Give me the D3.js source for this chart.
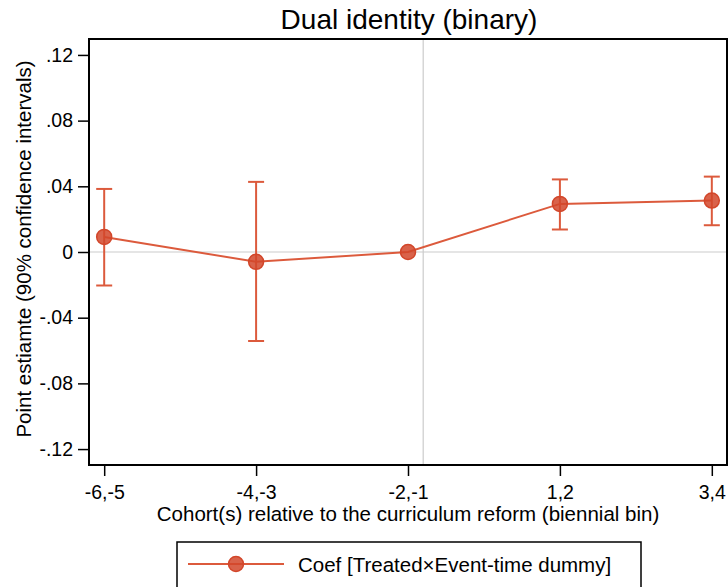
<!DOCTYPE html>
<html>
<head>
<meta charset="utf-8">
<script src="https://cdn.jsdelivr.net/npm/d3@7"></script>
<style>
  body { margin: 0; background: #fff; }
  text { font-family: "Liberation Sans", Arial, sans-serif; }
</style>
</head>
<body>
<div id="chart"></div>
<script>
// Dữ liệu
const categories = ["-6,-5", "-4,-3", "-2,-1", "1,2", "3,4"];
const coef = [0.0092, -0.0060, 0.0000, 0.0293, 0.0313];
const ciLow = [-0.0204, -0.0542, null, 0.0137, 0.0163];
const ciHigh = [0.0384, 0.0427, null, 0.0442, 0.0459];
const yTicks = [0.12, 0.08, 0.04, 0, -0.04, -0.08, -0.12];
const yTickLabels = [".12", ".08", ".04", "0", "-.04", "-.08", "-.12"];
const refLineX = 3.1;

const width = 728, height = 587;
const margin = { top: 39, right: 1, bottom: 122, left: 89 };
const lineColor = "#dc5a3c";
const font = "Liberation Sans, Arial, sans-serif";

const svg = d3.select("#chart").append("svg")
    .attr("width", width)
    .attr("height", height);

const x = d3.scaleLinear().domain([0.9, 5.1]).range([margin.left, width - margin.right]);
const y = d3.scaleLinear().domain([-0.1297, 0.1297]).range([height - margin.bottom, margin.top]);

const data = categories.map((c, i) => ({ cat: c, pos: i + 1, b: coef[i], lo: ciLow[i], hi: ciHigh[i] }));

// đường tham chiếu
svg.append("line")
    .attr("x1", margin.left).attr("x2", width - margin.right)
    .attr("y1", y(0)).attr("y2", y(0))
    .attr("stroke", "#cccccc").attr("stroke-width", 1.2);
svg.append("line")
    .attr("x1", x(refLineX)).attr("x2", x(refLineX))
    .attr("y1", margin.top).attr("y2", height - margin.bottom)
    .attr("stroke", "#cccccc").attr("stroke-width", 1.2);

// trục Y
const yAxis = svg.append("g")
    .attr("transform", `translate(${margin.left},0)`)
    .call(d3.axisLeft(y).tickValues(yTicks).tickSize(11).tickPadding(5)
        .tickFormat((d, i) => yTickLabels[i]));
yAxis.select(".domain").remove();
yAxis.selectAll("line").attr("stroke", "#000").attr("stroke-width", 1.5);
yAxis.selectAll("text").attr("font-size", "19.5px").attr("fill", "#000")
    .style("font-family", font);

// trục X
const xAxis = svg.append("g")
    .attr("transform", `translate(0,${height - margin.bottom})`)
    .call(d3.axisBottom(x).tickValues(data.map(d => d.pos)).tickSize(11).tickPadding(9)
        .tickFormat((d, i) => categories[i]));
xAxis.select(".domain").remove();
xAxis.selectAll("line").attr("stroke", "#000").attr("stroke-width", 1.5);
xAxis.selectAll("text").attr("font-size", "19.5px").attr("fill", "#000")
    .style("font-family", font);

// khung
svg.append("rect")
    .attr("x", margin.left).attr("y", margin.top)
    .attr("width", width - margin.right - margin.left)
    .attr("height", height - margin.bottom - margin.top)
    .attr("fill", "none").attr("stroke", "#000").attr("stroke-width", 2);

// khoảng tin cậy
const ci = data.filter(d => d.lo !== null);
svg.selectAll(".ci").data(ci).enter().append("line")
    .attr("x1", d => x(d.pos)).attr("x2", d => x(d.pos))
    .attr("y1", d => y(d.lo)).attr("y2", d => y(d.hi))
    .attr("stroke", lineColor).attr("stroke-width", 2);
["lo", "hi"].forEach(k => {
    svg.selectAll(".cap-" + k).data(ci).enter().append("line")
        .attr("x1", d => x(d.pos) - 8).attr("x2", d => x(d.pos) + 8)
        .attr("y1", d => y(d[k])).attr("y2", d => y(d[k]))
        .attr("stroke", lineColor).attr("stroke-width", 2);
});

// đường nối
svg.append("path")
    .datum(data)
    .attr("fill", "none")
    .attr("stroke", lineColor)
    .attr("stroke-width", 2)
    .attr("d", d3.line().x(d => x(d.pos)).y(d => y(d.b)));

// điểm
svg.selectAll(".pt").data(data).enter().append("circle")
    .attr("cx", d => x(d.pos)).attr("cy", d => y(d.b)).attr("r", 7.5)
    .attr("fill", "#d2462a").attr("fill-opacity", 0.85)
    .attr("stroke", "#d2462a").attr("stroke-width", 1.5);

// tiêu đề
svg.append("text")
    .attr("x", 409)
    .attr("y", 28.5)
    .attr("text-anchor", "middle")
    .attr("font-size", "28px")
    .text("Dual identity (binary)");

svg.append("text")
    .attr("transform", `translate(31,249) rotate(-90)`)
    .attr("text-anchor", "middle")
    .attr("font-size", "20.5px")
    .text("Point estiamte (90% confidence intervals)");

svg.append("text")
    .attr("x", 408)
    .attr("y", 521)
    .attr("text-anchor", "middle")
    .attr("font-size", "20.5px")
    .text("Cohort(s) relative to the curriculum reform (biennial bin)");

// chú giải
svg.append("rect")
    .attr("x", 177).attr("y", 542).attr("width", 464).attr("height", 60)
    .attr("fill", "#fff").attr("stroke", "#000").attr("stroke-width", 1.5);
svg.append("line")
    .attr("x1", 188).attr("x2", 284).attr("y1", 564).attr("y2", 564)
    .attr("stroke", lineColor).attr("stroke-width", 2);
svg.append("circle")
    .attr("cx", 236).attr("cy", 564).attr("r", 7.5)
    .attr("fill", "#d2462a").attr("fill-opacity", 0.85)
    .attr("stroke", "#d2462a").attr("stroke-width", 1.5);
svg.append("text")
    .attr("x", 298).attr("y", 572)
    .attr("font-size", "20.5px")
    .text("Coef [Treated×Event-time dummy]");
</script>
</body>
</html>
